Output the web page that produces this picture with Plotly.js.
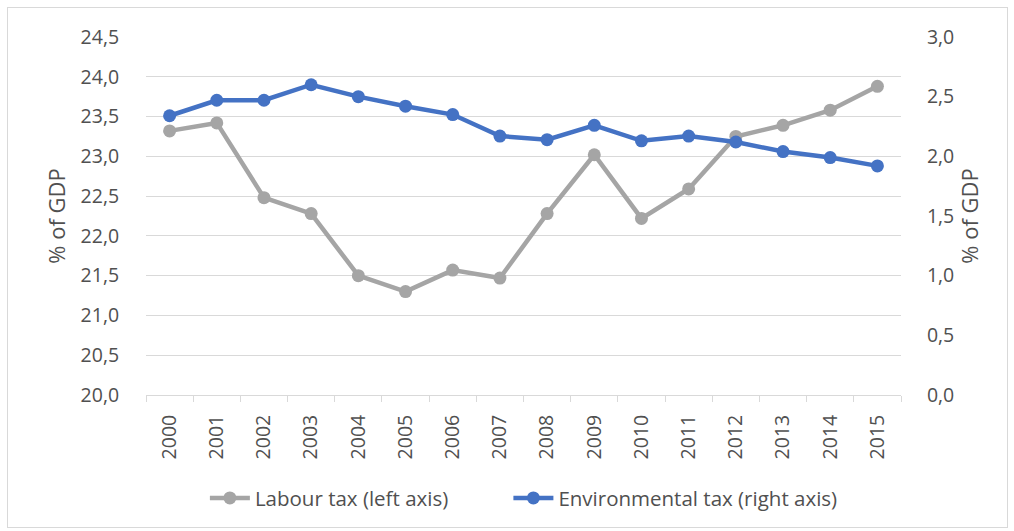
<!DOCTYPE html>
<html>
<head>
<meta charset="utf-8">
<script src="https://cdn.plot.ly/plotly-3.0.1.min.js"></script>
<style>
html,body{margin:0;padding:0;background:#fff;}
#wrap{position:relative;width:1014px;height:531px;}
#chart{width:1014px;height:531px;}
#border{position:absolute;left:7px;top:7px;width:999px;height:519px;border:1px solid #d9d9d9;pointer-events:none;}
</style>
</head>
<body>
<div id="wrap"><div id="chart"></div><div id="border"></div></div>
<script>
const years = ["2000","2001","2002","2003","2004","2005","2006","2007","2008","2009","2010","2011","2012","2013","2014","2015"];
const labourTax = [23.32,23.42,22.48,22.28,21.50,21.30,21.57,21.47,22.28,23.02,22.22,22.59,23.25,23.39,23.58,23.88];
const environmentalTax = [2.34,2.47,2.47,2.60,2.50,2.42,2.35,2.17,2.14,2.26,2.13,2.17,2.12,2.04,1.99,1.92];
const labourName = "Labour tax (left axis)";
const envName = "Environmental tax (right axis)";

const FONT = "Open Sans, Liberation Sans, sans-serif";
const TXT = "#505050";

const traces = [
  {x: years, y: labourTax, name: labourName, type: "scatter", mode: "lines+markers",
   line: {color: "#a5a5a5", width: 4.5}, marker: {color: "#a5a5a5", size: 13}, yaxis: "y", legend: "legend"},
  {x: years, y: environmentalTax, name: envName, type: "scatter", mode: "lines+markers",
   line: {color: "#4472c4", width: 4.5}, marker: {color: "#4472c4", size: 13}, yaxis: "y2", legend: "legend2"}
];

const legendStyle = {orientation: "h", yanchor: "middle", y: -0.288, xanchor: "left",
                     font: {family: FONT, size: 20.5, color: TXT}, itemwidth: 40, tracegroupgap: 0,
                     bgcolor: "rgba(0,0,0,0)"};

const layout = {
  width: 1014, height: 531,
  margin: {l: 146, r: 113, t: 37, b: 136},
  paper_bgcolor: "#fff", plot_bgcolor: "#fff",
  separators: ", ",
  font: {family: FONT, size: 19, color: TXT},
  showlegend: true,
  legend: Object.assign({}, legendStyle, {x: 0.078}),
  legend2: Object.assign({}, legendStyle, {x: 0.48}),
  xaxis: {type: "category", range: [-0.5, 15.5], autorange: false, showgrid: false, showline: true,
          linecolor: "#d9d9d9", linewidth: 1,
          ticks: "outside", tickson: "boundaries", ticklen: 6, tickcolor: "#d9d9d9",
          tickangle: -90, tickfont: {family: FONT, size: 19.5, color: TXT}, ticklabelstandoff: 11,
          zeroline: false, fixedrange: true},
  yaxis: {range: [20, 24.5], autorange: false, dtick: 0.5, tick0: 20, tickformat: ".1f", showgrid: true, gridcolor: "#d9d9d9",
          gridwidth: 1, zeroline: false, showline: false, ticks: "outside", ticklen: 22,
          tickcolor: "rgba(0,0,0,0)", tickfont: {family: FONT, size: 19.5, color: TXT},
          title: {text: "% of GDP", font: {family: FONT, size: 22, color: TXT}, standoff: 8}},
  yaxis2: {range: [0, 3], autorange: false, dtick: 0.5, tick0: 0, tickformat: ".1f", overlaying: "y", side: "right",
           showgrid: false, zeroline: false, showline: false, ticks: "outside", ticklen: 21,
           tickcolor: "rgba(0,0,0,0)", tickfont: {family: FONT, size: 19.5, color: TXT},
           title: {text: "% of GDP", font: {family: FONT, size: 22, color: TXT}, standoff: 8}}
};

Plotly.newPlot("chart", traces, layout, {displayModeBar: false, staticPlot: true});
</script>
</body>
</html>
